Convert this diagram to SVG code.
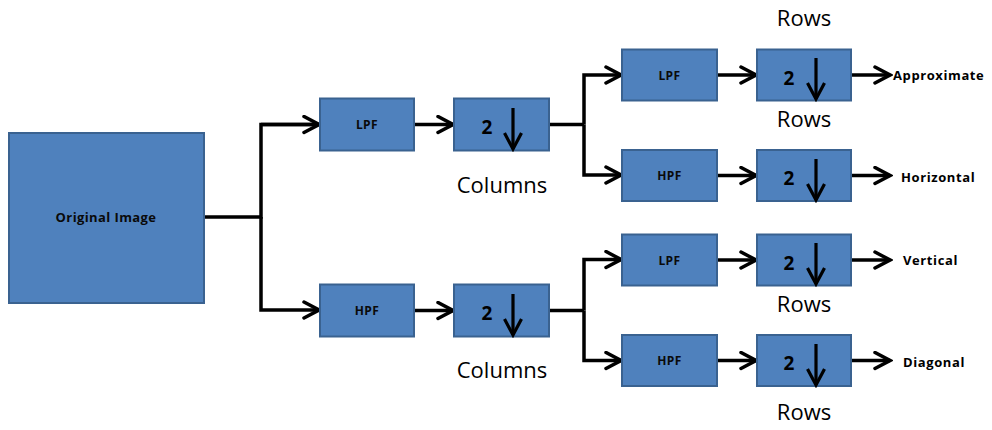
<svg xmlns="http://www.w3.org/2000/svg" width="992" height="430" viewBox="0 0 992 430">
  <defs>
    <marker id="ah" viewBox="0 0 20 20" refX="17" refY="10" markerWidth="20" markerHeight="20" markerUnits="userSpaceOnUse" orient="auto">
      <path d="M2,2 L17,10 L2,18" fill="none" stroke="#000" stroke-width="3.5" stroke-linecap="round" stroke-linejoin="miter"/>
    </marker>
    <marker id="dh" viewBox="0 0 20 20" refX="17" refY="10" markerWidth="20" markerHeight="20" markerUnits="userSpaceOnUse" orient="auto">
      <path d="M1,1.5 L17,10 L1,18.5" fill="none" stroke="#000" stroke-width="3.2" stroke-linecap="butt" stroke-linejoin="miter"/>
    </marker>
  </defs>
  <style>
    .box { fill: #4F81BD; stroke: #3A6290; stroke-width: 2; }
    .lbl { font-family: "Open Sans", "Liberation Sans", sans-serif; font-weight: bold; fill: #0a0a0a; text-anchor: middle; }
    .flt { font-size: 12px; letter-spacing: 0.4px; }
    .two { font-family: "Open Sans", "Liberation Sans", sans-serif; font-weight: bold; font-size: 19px; fill: #000; text-anchor: middle; }
    .dn { stroke: #000; stroke-width: 3.2; fill: none; marker-end: url(#dh); }
    .cap { font-family: "Open Sans", "Liberation Sans", sans-serif; font-size: 22px; fill: #000; text-anchor: middle; }
    .out { font-family: "Open Sans", "Liberation Sans", sans-serif; font-weight: bold; font-size: 13px; letter-spacing: 0.6px; fill: #000; }
    .wire { stroke: #000; stroke-width: 3.5; fill: none; stroke-linejoin: miter; }
    .arr { marker-end: url(#ah); }
  </style>

  <g id="connectors">
    <path class="wire" d="M204,217 H261 V124.5 H318"/>
    <path class="wire arr" d="M261,124.5 H319"/>
    <path class="wire arr" d="M261,217 V310 H319"/>
    <path class="wire arr" d="M414,124.5 H453"/>
    <path class="wire arr" d="M414,310.5 H453"/>
    <path class="wire" d="M549,124.5 H584"/>
    <path class="wire arr" d="M584,124.5 V75 H621"/>
    <path class="wire arr" d="M584,124.5 V175 H621"/>
    <path class="wire" d="M549,310.5 H584"/>
    <path class="wire arr" d="M584,310.5 V259.5 H621"/>
    <path class="wire arr" d="M584,310.5 V360.5 H621"/>
    <path class="wire arr" d="M717,75 H756"/>
    <path class="wire arr" d="M717,175.5 H756"/>
    <path class="wire arr" d="M717,260 H756"/>
    <path class="wire arr" d="M717,360.5 H756"/>
    <path class="wire arr" d="M851,75 H890"/>
    <path class="wire arr" d="M851,175.5 H890"/>
    <path class="wire arr" d="M851,260 H890"/>
    <path class="wire arr" d="M851,360.5 H890"/>
  </g>

  <g id="original">
    <rect class="box" x="9" y="133" width="195" height="170"/>
    <text class="lbl" x="106" y="222" font-size="13" letter-spacing="0.4">Original Image</text>
  </g>

  <g id="lpf1">
    <rect class="box" x="320" y="98.5" width="94" height="52"/>
    <text class="lbl flt" x="367" y="129">LPF</text>
  </g>
  <g id="ds1">
    <rect class="box" x="454" y="98.5" width="95" height="52"/>
    <text class="two" x="487" y="134">2</text>
    <path class="dn" d="M513,108 V149"/>
  </g>
  <g id="hpf1">
    <rect class="box" x="320" y="284.5" width="94" height="52"/>
    <text class="lbl flt" x="367" y="315">HPF</text>
  </g>
  <g id="ds2">
    <rect class="box" x="454" y="284.5" width="95" height="52"/>
    <text class="two" x="487" y="320">2</text>
    <path class="dn" d="M513,294 V335"/>
  </g>

  <g id="lpf-a">
    <rect class="box" x="622" y="49.5" width="95" height="51"/>
    <text class="lbl flt" x="669.5" y="79.5">LPF</text>
  </g>
  <g id="ds-a">
    <rect class="box" x="757" y="49.5" width="94" height="51"/>
    <text class="two" x="789" y="84.5">2</text>
    <path class="dn" d="M816,58 V99"/>
  </g>
  <g id="hpf-h">
    <rect class="box" x="622" y="150" width="95" height="51"/>
    <text class="lbl flt" x="669.5" y="180">HPF</text>
  </g>
  <g id="ds-h">
    <rect class="box" x="757" y="150" width="94" height="51"/>
    <text class="two" x="789" y="185">2</text>
    <path class="dn" d="M816,159 V200"/>
  </g>
  <g id="lpf-v">
    <rect class="box" x="622" y="234.5" width="95" height="51"/>
    <text class="lbl flt" x="669.5" y="264.5">LPF</text>
  </g>
  <g id="ds-v">
    <rect class="box" x="757" y="234.5" width="94" height="51"/>
    <text class="two" x="789" y="269.5">2</text>
    <path class="dn" d="M816,243 V284"/>
  </g>
  <g id="hpf-d">
    <rect class="box" x="622" y="335" width="95" height="51"/>
    <text class="lbl flt" x="669.5" y="365">HPF</text>
  </g>
  <g id="ds-d">
    <rect class="box" x="757" y="335" width="94" height="51"/>
    <text class="two" x="789" y="370">2</text>
    <path class="dn" d="M816,344 V385"/>
  </g>

  <g id="labels">
    <text class="cap" x="502" y="193">Columns</text>
    <text class="cap" x="502" y="378">Columns</text>
    <text class="cap" x="804" y="26">Rows</text>
    <text class="cap" x="804" y="127">Rows</text>
    <text class="cap" x="804" y="312">Rows</text>
    <text class="cap" x="804" y="420">Rows</text>
    <text class="out" x="893" y="80">Approximate</text>
    <text class="out" x="901" y="182">Horizontal</text>
    <text class="out" x="903" y="265">Vertical</text>
    <text class="out" x="903" y="367">Diagonal</text>
  </g>
</svg>
